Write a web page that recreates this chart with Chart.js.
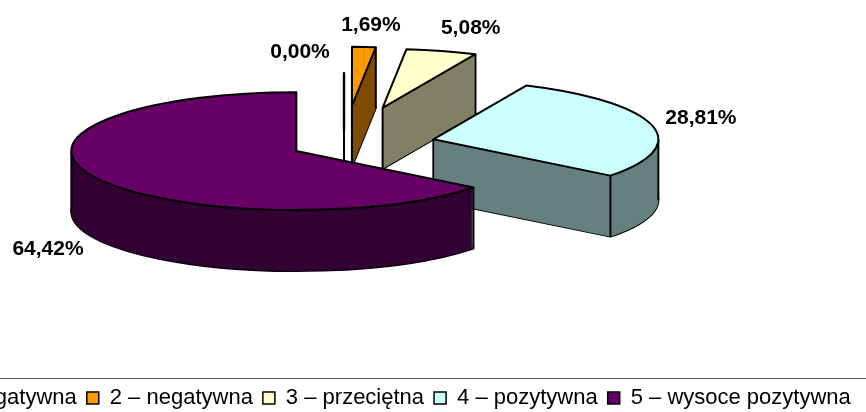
<!DOCTYPE html>
<html><head><meta charset="utf-8">
<style>html,body{margin:0;padding:0;background:#fff;overflow:hidden;width:866px;height:412px}
canvas{position:absolute;left:-189px;top:0}</style>
<script src="https://cdn.jsdelivr.net/npm/chart.js@4"></script></head>
<body><canvas id="c" width="1060" height="419"></canvas>
<script>
const categories = ['1 – wysoce negatywna','2 – negatywna','3 – przeciętna','4 – pozytywna','5 – wysoce pozytywna'];
const shares = [0,1.69,5.08,28.81,64.42];
const topColors = ['#9999FF','#FF9900','#FFFFCC','#CCFFFF','#660066'];
const wallColors = ['#4C4C80','#804C00','#808066','#668080','#330033'];
// look of the 3D exploded pie
const explode = [53,150,147,92,53];
const labelNudge = [[-44,-20],[7,-22],[29,-23],[49,-7],[-46,72]];
const centerX = 344+189, centerY = 145, squash = 0.262, depth = 61;

function plainOpts(color){return {backgroundColor:color,borderColor:'transparent',borderWidth:0,borderAlign:'center',borderJoinStyle:'round',borderRadius:0,borderDash:[],borderDashOffset:0,spacing:0,offset:0,circular:true};}
function place(ctx,arc,i,k){
  const mid=(arc.startAngle+arc.endAngle)/2;
  ctx.translate(centerX+Math.cos(mid)*explode[i],centerY+Math.sin(mid)*explode[i]*squash+k);
  ctx.scale(1,squash);
  ctx.translate(-arc.x,-arc.y);
}
const pie3d={id:'pie3d',
 beforeDatasetsDraw(chart){
  const ctx=chart.ctx,meta=chart.getDatasetMeta(0);
  meta.data.forEach((arc,i)=>{
    const R=arc.outerRadius,s=arc.startAngle,e=arc.endAngle;
    const saved=arc.options;
    const outline=(k)=>{ctx.save();const base=ctx.getTransform();place(ctx,arc,i,k);
      ctx.beginPath();ctx.moveTo(arc.x,arc.y);ctx.arc(arc.x,arc.y,R,s,e);ctx.closePath();
      ctx.setTransform(base);ctx.strokeStyle='#000';ctx.lineWidth=2;ctx.lineJoin='round';ctx.stroke();ctx.restore();};
    const vertical=(ang,rad)=>{ctx.save();const base=ctx.getTransform();place(ctx,arc,i,0);
      const m=ctx.getTransform();const px=arc.x+Math.cos(ang)*rad,py=arc.y+Math.sin(ang)*rad;
      const p=m.transformPoint(new DOMPoint(px,py));
      ctx.setTransform(base);ctx.beginPath();ctx.moveTo(p.x,p.y);ctx.lineTo(p.x,p.y+depth);
      ctx.strokeStyle='#000';ctx.lineWidth=2;ctx.stroke();ctx.restore();};
    if(e-s<1e-6){ // zero share: only a radius line remains
      ctx.save();const base=ctx.getTransform();place(ctx,arc,i,0);
      ctx.beginPath();ctx.moveTo(arc.x,arc.y);ctx.lineTo(arc.x+Math.cos(s)*R,arc.y+Math.sin(s)*R);
      ctx.setTransform(base);ctx.lineWidth=2.4;ctx.strokeStyle='#000';ctx.stroke();ctx.restore();
      vertical(s,0);
      return;
    }
    outline(depth);
    arc.options=plainOpts(wallColors[i]);
    for(let k=depth;k>=1;k--){ctx.save();place(ctx,arc,i,k);arc.draw(ctx);ctx.restore();}
    // only edges that face the viewer get a vertical line
    if(Math.sin(s)>0||Math.cos(s)<-1e-6)vertical(s,R);
    if(Math.sin(e)>0||Math.cos(e)>1e-6)vertical(e,R);
    vertical(s,0);
    const TAU=Math.PI*2;
    [0,Math.PI].forEach(a=>{for(let t=a-TAU*2;t<e+TAU;t+=TAU){if(t>s&&t<e)vertical(t,R);}});
    arc.options=plainOpts(topColors[i]);
    ctx.save();place(ctx,arc,i,0);arc.draw(ctx);ctx.restore();
    arc.options=saved;
    outline(0);
  });
  return false;
 },
 afterDraw(chart){
  const ctx=chart.ctx,meta=chart.getDatasetMeta(0);
  ctx.save();ctx.font='bold 21px "Liberation Sans", Arial, sans-serif';ctx.fillStyle='#000';ctx.textAlign='center';ctx.textBaseline='middle';
  meta.data.forEach((arc,i)=>{
    const mid=(arc.startAngle+arc.endAngle)/2,rad=arc.outerRadius+explode[i];
    const x=centerX+Math.cos(mid)*rad+labelNudge[i][0];
    const y=centerY+Math.sin(mid)*rad*squash+labelNudge[i][1];
    ctx.fillText(shares[i].toFixed(2).replace('.',',')+'%',x,y);
  });
  ctx.restore();
  ctx.save();ctx.strokeStyle='#555';ctx.lineWidth=1;ctx.beginPath();ctx.moveTo(0,378.5);ctx.lineTo(chart.width,378.5);ctx.stroke();ctx.restore();
 }
};
new Chart(document.getElementById('c'),{type:'pie',
 data:{labels:categories,datasets:[{data:shares,backgroundColor:topColors,borderColor:'#000',borderWidth:1.5,radius:225}]},
 options:{responsive:false,animation:false,
  plugins:{tooltip:{enabled:false},title:{display:false},
   legend:{display:true,position:'bottom',labels:{boxWidth:12,boxHeight:12,padding:10,color:'#000',font:{family:'"Liberation Sans", Arial, sans-serif',size:22}}}}},
 plugins:[pie3d]});
</script></body></html>
